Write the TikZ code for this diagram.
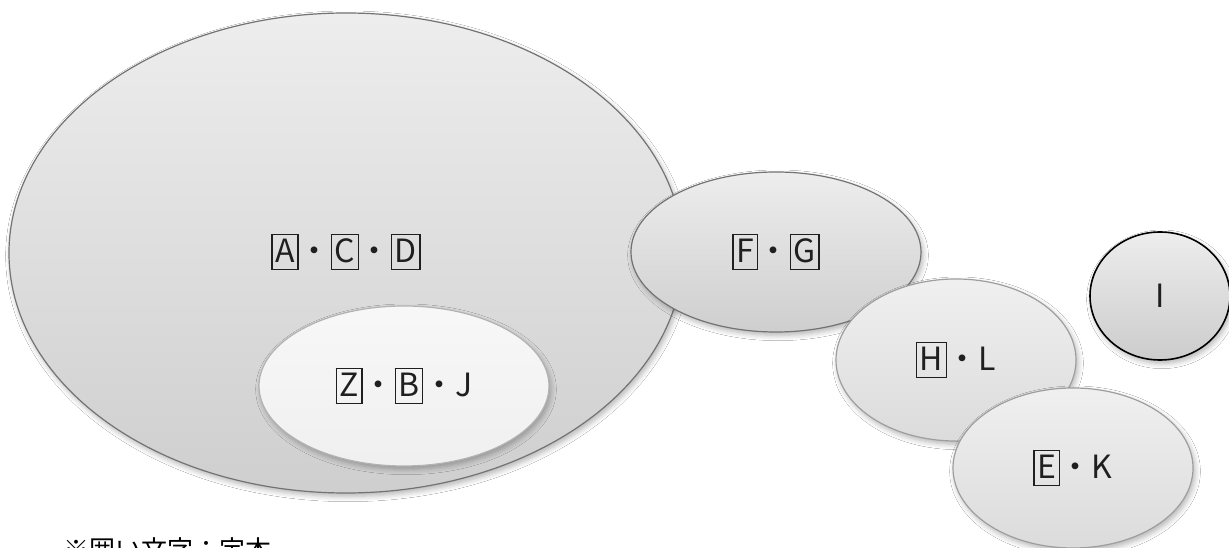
\documentclass[tikz,border=0pt]{standalone}
\usepackage{fontspec}
\newfontfamily\jp{Noto Sans CJK JP}
\usetikzlibrary{shapes.geometric,shadows.blur}
\newcommand\kk[1]{{\fboxsep=1pt\fboxrule=0.9pt\fbox{\rule[-4pt]{0pt}{23.5pt}\kern1pt#1\kern1pt}}}
\tikzset{
  blob/.style={ellipse, inner sep=0pt, line width=0.9pt,
    font=\jp\fontsize{24}{28}\selectfont, text=black!88,
    blur shadow={shadow xshift=1.5pt, shadow yshift=-2.5pt, shadow blur steps=6, shadow opacity=30, shadow blur radius=4pt}},
  grayblob/.style={blob, draw=black!55, top color=black!7, bottom color=black!19},
  lightblob/.style={blob, draw=black!38, top color=black!6, bottom color=black!14},
  whiteblob/.style={blob, draw=black!30, top color=black!3, bottom color=black!6},
  darkblob/.style={blob, draw=black, line width=1.2pt, top color=black!7, bottom color=black!20},
}
\begin{document}
\begin{tikzpicture}[x=0.75pt,y=-0.75pt]
\clip (0,0) rectangle (1229,548);
\fill[white] (0,0) rectangle (1229,548);
\node[grayblob, minimum width=505.5pt, minimum height=360pt] (big) at (346,253) {};
\node[font=\jp\fontsize{24}{28}\selectfont, text=black!88] (acd) at (346,252) {\kk{A}・\kk{C}・\kk{D}};
\node[whiteblob, minimum width=217.5pt, minimum height=120pt] (zbj) at (404,386) {\kk{Z}・\kk{B}・J};
\node[grayblob, minimum width=217.5pt, minimum height=120pt] (fg) at (776,252) {\kk{F}・\kk{G}};
\node[lightblob, minimum width=180pt, minimum height=121.5pt] (hl) at (956,360) {\kk{H}・L};
\node[lightblob, minimum width=180pt, minimum height=120pt] (ek) at (1073,468) {\kk{E}・K};
\node[darkblob, minimum width=105pt, minimum height=96pt] (i) at (1160,296) {I};
\node[anchor=base west, inner sep=0pt, font=\jp\fontsize{19.5}{22}\selectfont] (note) at (63,560) {※囲い文字：定本};
\end{tikzpicture}
\end{document}
